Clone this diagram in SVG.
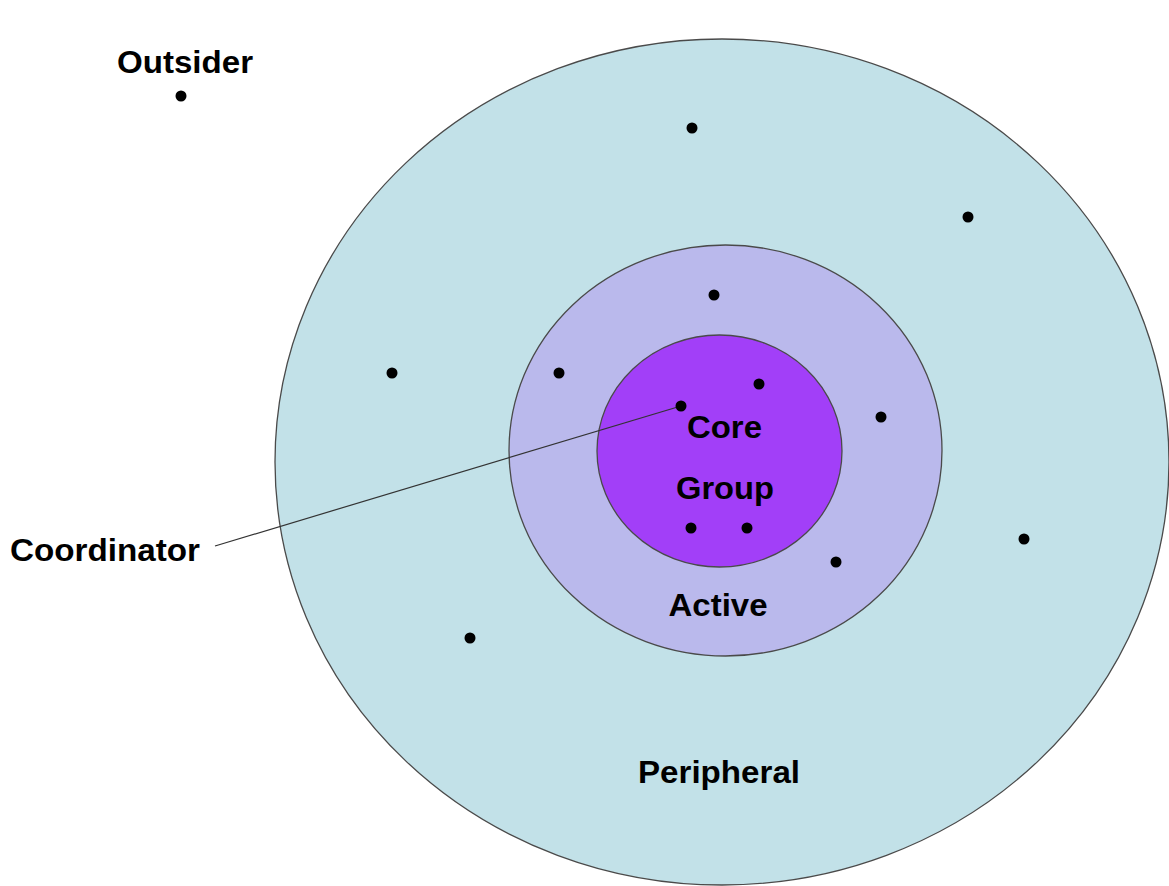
<svg xmlns="http://www.w3.org/2000/svg" width="1169" height="886" viewBox="0 0 1169 886">
  <style>
    .ring { stroke: #4a4a4a; stroke-width: 1.3; }
    .label { font-family: "Liberation Sans", Arial, sans-serif; font-weight: bold; font-size: 31px; fill: #000; }
    .member { fill: #000; }
    .leader { stroke: #333; stroke-width: 1.2; fill: none; }
  </style>
  <rect width="1169" height="886" fill="#fff"/>

  <g id="peripheral">
    <ellipse class="ring" cx="722" cy="462" rx="447" ry="423" fill="#c2e1e8"/>
    <text class="label" x="719" y="783" text-anchor="middle" textLength="162" lengthAdjust="spacingAndGlyphs">Peripheral</text>
  </g>

  <g id="active">
    <ellipse class="ring" cx="725.5" cy="450.5" rx="216.5" ry="205.5" fill="#bab9ec"/>
    <text class="label" x="718" y="616" text-anchor="middle" textLength="99" lengthAdjust="spacingAndGlyphs">Active</text>
  </g>

  <g id="core-group">
    <ellipse class="ring" cx="719.5" cy="451" rx="122.5" ry="116" fill="#a23ff8"/>
    <text class="label" x="724.5" y="438" text-anchor="middle" textLength="75" lengthAdjust="spacingAndGlyphs">Core</text>
    <text class="label" x="725" y="498.5" text-anchor="middle" textLength="98" lengthAdjust="spacingAndGlyphs">Group</text>
  </g>

  <g id="outsider">
    <text class="label" x="185" y="73" text-anchor="middle" textLength="136" lengthAdjust="spacingAndGlyphs">Outsider</text>
    <circle class="member" cx="181" cy="96" r="5.5"/>
  </g>

  <g id="coordinator">
    <text class="label" x="10" y="560.5" textLength="190" lengthAdjust="spacingAndGlyphs">Coordinator</text>
  </g>

  <g id="connectors">
    <line class="leader" x1="215" y1="546" x2="681" y2="406"/>
  </g>

  <g id="members">
    <circle class="member" cx="692" cy="128" r="5.5"/>
    <circle class="member" cx="968" cy="217" r="5.5"/>
    <circle class="member" cx="714" cy="295" r="5.5"/>
    <circle class="member" cx="392" cy="373" r="5.5"/>
    <circle class="member" cx="559" cy="373" r="5.5"/>
    <circle class="member" cx="759" cy="384" r="5.5"/>
    <circle class="member" cx="681" cy="406" r="5.5"/>
    <circle class="member" cx="881" cy="417" r="5.5"/>
    <circle class="member" cx="1024" cy="539" r="5.5"/>
    <circle class="member" cx="691" cy="528" r="5.5"/>
    <circle class="member" cx="747" cy="528" r="5.5"/>
    <circle class="member" cx="836" cy="562" r="5.5"/>
    <circle class="member" cx="470" cy="638" r="5.5"/>
  </g>
</svg>
